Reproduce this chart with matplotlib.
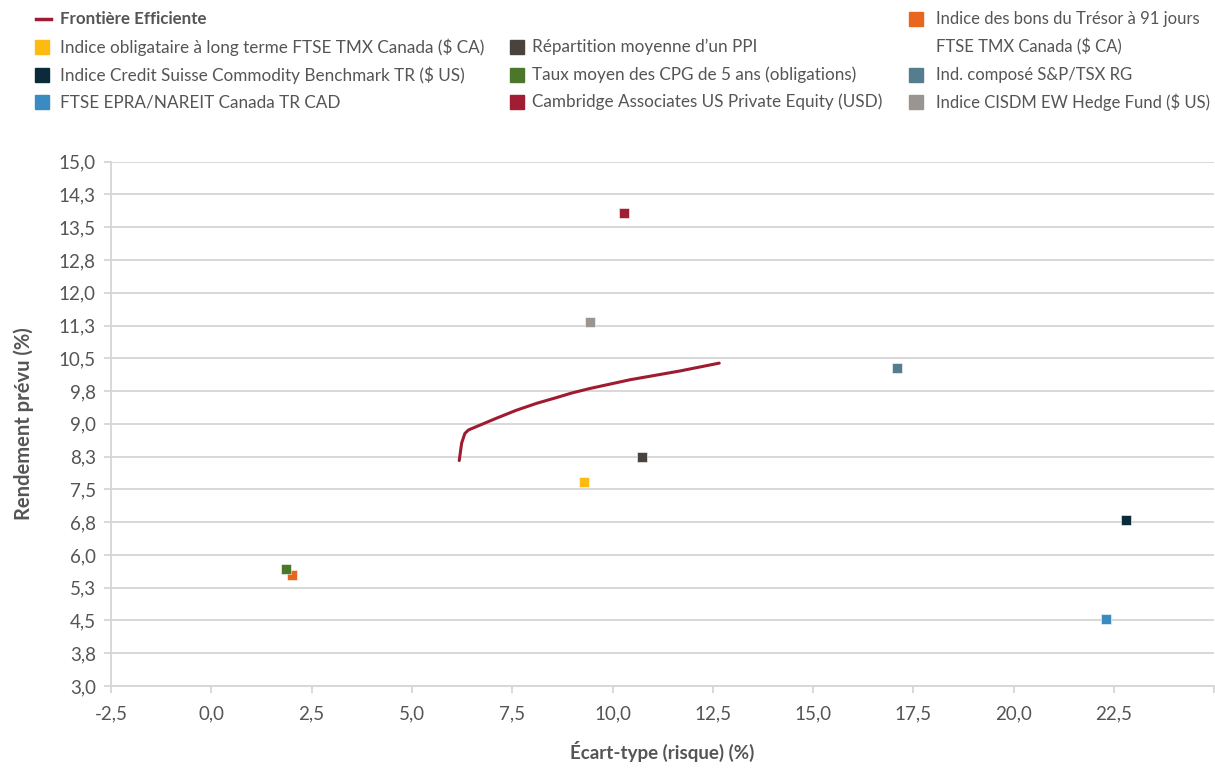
import matplotlib
matplotlib.use("Agg")
import matplotlib.pyplot as plt
from matplotlib.lines import Line2D

plt.rcParams['font.family'] = ['Lato', 'DejaVu Sans']

# ---- data ----
frontier_x = [6.18, 6.24, 6.32, 6.41, 7.11, 7.60, 8.11, 8.60, 9.00, 9.44,
              10.44, 11.68, 12.66]
frontier_y = [8.16, 8.56, 8.78, 8.86, 9.13, 9.31, 9.47, 9.60, 9.71, 9.81,
              10.01, 10.21, 10.39]

asset_names = [
    "Indice des bons du Trésor à 91 jours\nFTSE TMX Canada ($ CA)",
    "Indice obligataire à long terme FTSE TMX Canada ($ CA)",
    "Répartition moyenne d’un PPI",
    "Indice Credit Suisse Commodity Benchmark TR ($ US)",
    "Taux moyen des CPG de 5 ans (obligations)",
    "Ind. composé S&P/TSX RG",
    "FTSE EPRA/NAREIT Canada TR CAD",
    "Cambridge Associates US Private Equity (USD)",
    "Indice CISDM EW Hedge Fund ($ US)",
]
asset_risk = [2.00, 9.29, 10.74, 22.79, 1.86, 17.10, 22.29, 10.28, 9.43]
asset_return = [5.53, 7.66, 8.25, 6.81, 5.68, 10.28, 4.53, 13.83, 11.32]
asset_colors = ["#e8661e", "#fdbb12", "#4a433d", "#0c2b3a", "#4a7729",
                "#567d8d", "#3a8bc2", "#a11d33", "#9a9591"]

y_ticks = [3.0 + 0.75 * i for i in range(17)]
y_labels = ["3,0", "3,8", "4,5", "5,3", "6,0", "6,8", "7,5", "8,3", "9,0",
            "9,8", "10,5", "11,3", "12,0", "12,8", "13,5", "14,3", "15,0"]
x_ticks = [-2.5, 0.0, 2.5, 5.0, 7.5, 10.0, 12.5, 15.0, 17.5, 20.0, 22.5, 25.0]
x_labels = ["-2,5", "0,0", "2,5", "5,0", "7,5", "10,0", "12,5", "15,0",
            "17,5", "20,0", "22,5", ""]

frontier_label = "Frontière Efficiente"
frontier_color = "#9e1b32"
xlabel = "Écart-type (risque) (%)"
ylabel = "Rendement prévu (%)"

TXT = "#555555"
GRID = "#d6d6d6"

W, H = 1215, 770
fig = plt.figure(figsize=(W / 100, H / 100), dpi=100)
ax = fig.add_axes([111 / W, 1 - 686 / H, (1214.3 - 111) / W, (686 - 161.7) / H])

ax.set_xlim(-2.5, 25.0)
ax.set_ylim(3.0, 15.0)
ax.set_yticks(y_ticks)
ax.set_yticklabels(y_labels)
ax.set_xticks(x_ticks)
ax.set_xticklabels(x_labels)
ax.grid(axis='y', color=GRID, linewidth=1.3)
ax.set_axisbelow(True)
for s in ['top', 'right']:
    ax.spines[s].set_visible(False)
for s in ['left', 'bottom']:
    ax.spines[s].set_color(GRID)
    ax.spines[s].set_linewidth(1.3)
ax.tick_params(axis='both', colors=GRID, labelcolor=TXT, labelsize=13.5,
               length=5, width=1.3, direction='out')
ax.tick_params(axis='x', pad=9)
ax.tick_params(axis='y', pad=6)

ax.plot(frontier_x, frontier_y, color=frontier_color, lw=2.2,
        solid_capstyle='round', solid_joinstyle='round', zorder=3)
for xr, yr, c in zip(asset_risk, asset_return, asset_colors):
    ax.plot([xr], [yr], marker='s', ms=7.5, color=c, mec='white', mew=0.4,
            ls='none', zorder=4)

ax.set_xlabel(xlabel, fontsize=13.5, fontweight='bold', color=TXT, labelpad=13)
ax.set_ylabel(ylabel, fontsize=14.5, fontweight='bold', color=TXT, labelpad=18)

# ---- legend (manual) ----
def fy(py):
    return 1 - py / H

def fx(px):
    return px / W

fig.add_artist(Line2D([fx(36), fx(51)], [fy(19), fy(19)], color=frontier_color,
                      lw=2.5, transform=fig.transFigure))
fig.text(fx(60), fy(19), frontier_label, fontsize=12.2, fontweight='bold',
         color=TXT, va='center', ha='left')

leg_pos = {
    0: (916, 936, 19),
    1: (42, 60, 47),
    2: (517, 532, 47),
    3: (42, 60, 75),
    4: (517, 532, 75),
    5: (916, 936, 75),
    6: (42, 60, 102),
    7: (517, 532, 102),
    8: (916, 936, 102),
}
for i, name in enumerate(asset_names):
    sx, tx, ry = leg_pos[i]
    fs = 12.0 if sx > 900 else 12.3
    fig.add_artist(Line2D([fx(sx)], [fy(ry)], marker='s', ms=10.5,
                          color=asset_colors[i], ls='none',
                          transform=fig.transFigure))
    lines = name.split("\n")
    for k, ln in enumerate(lines):
        fig.text(fx(tx), fy(ry + 28 * k), ln, fontsize=fs, color=TXT,
                 va='center', ha='left')

fig.savefig("out.png", dpi=100)
